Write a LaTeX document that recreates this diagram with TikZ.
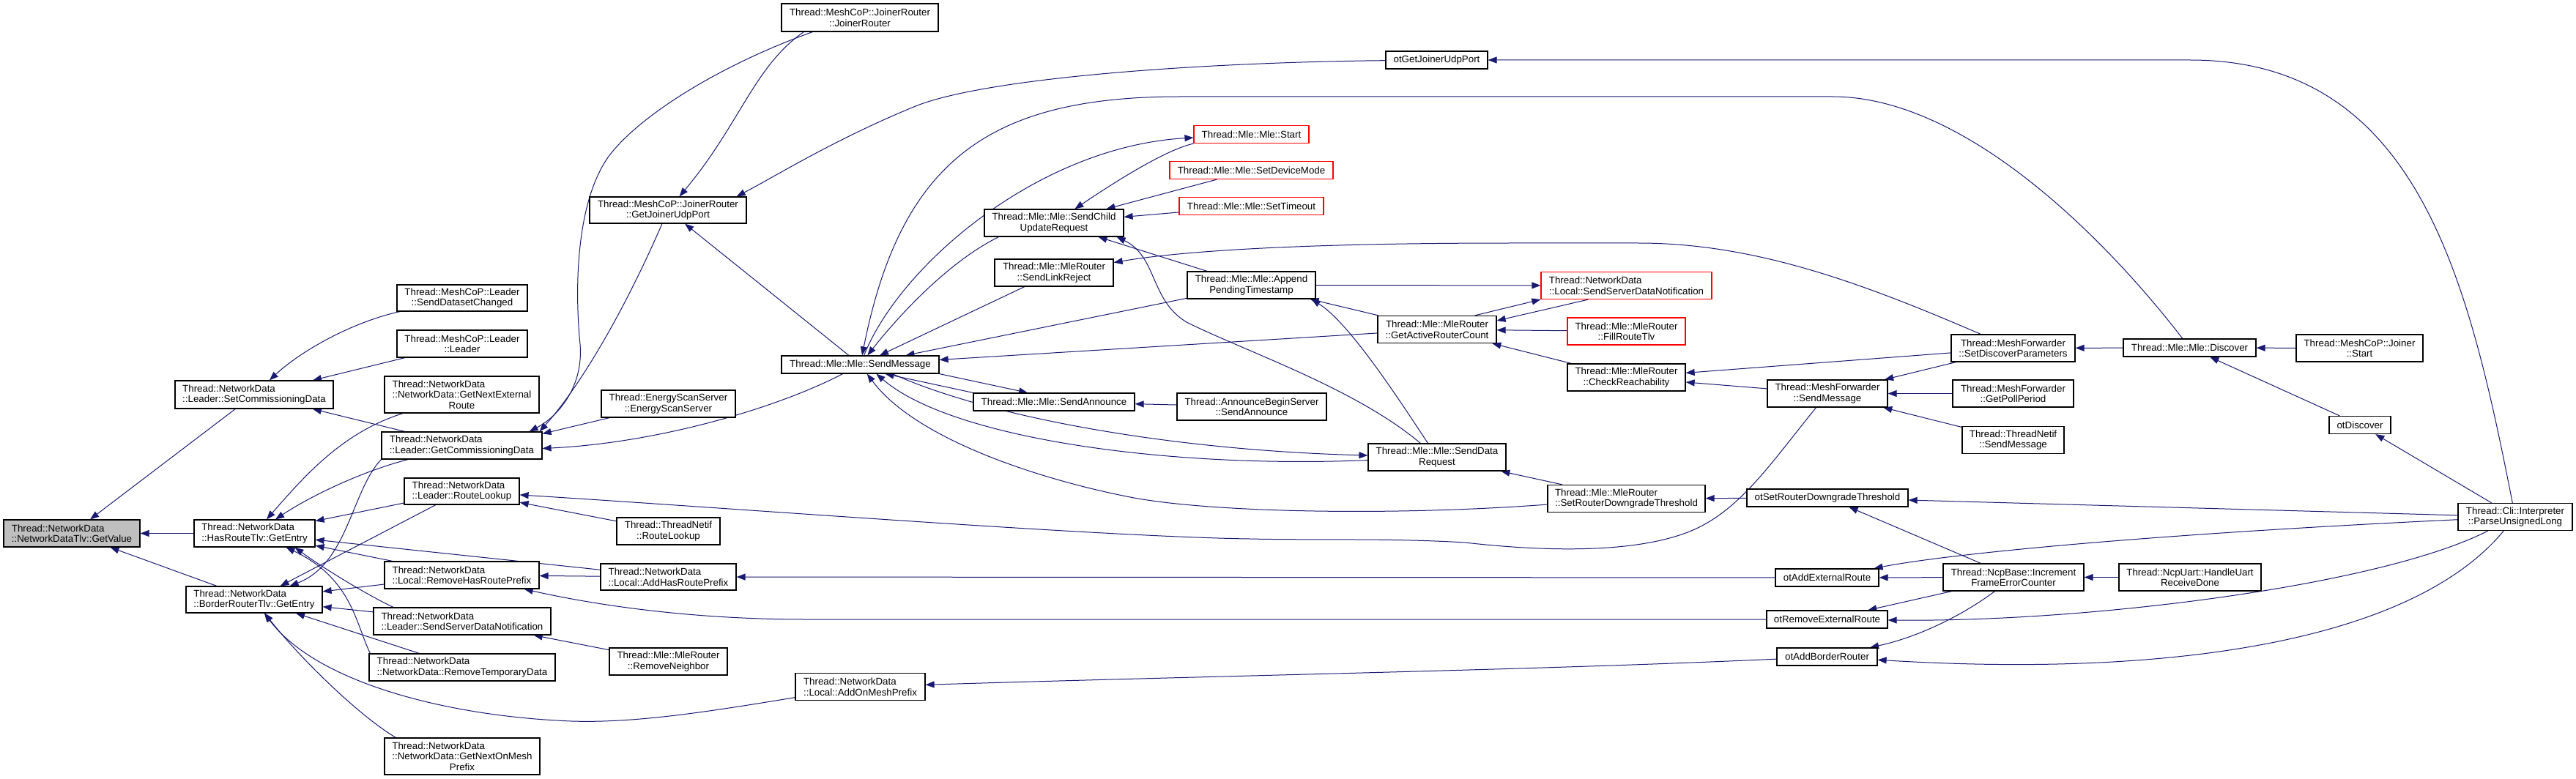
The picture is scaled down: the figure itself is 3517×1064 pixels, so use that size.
\documentclass[tikz,border=0pt]{standalone}
\usepackage{fontspec}
\setmainfont{Liberation Sans}
\usetikzlibrary{arrows.meta,calc}
\definecolor{edgec}{HTML}{191970}
\definecolor{grayfill}{HTML}{BFBFBF}
\newlength\lftlen
\newcommand\lft[2]{\settowidth{\lftlen}{#2}\makebox[\lftlen][l]{#1}\\#2}
\newcommand\nb[6][box]{\node[#1, minimum width=#4pt, minimum height=#5pt] (#2) at (#3) {#6};}
\pgfdeclarelayer{edgelayer}
\pgfsetlayers{edgelayer,main}
\tikzset{
 box/.style={draw=black, line width=1.2pt, fill=white, inner sep=0pt, align=center, font=\fontsize{13.33}{14.5}\selectfont},
 redbox/.style={box, draw=red},
 curbox/.style={box, fill=grayfill},
 e/.style={draw=edgec, line width=1pt, -{Triangle[length=12pt,width=9pt]}},
}
\begin{document}
\begin{tikzpicture}[x=1pt,y=-1pt]
\useasboundingbox (0,0) rectangle (3517,1064);
% nodes
\nb[curbox]{n1}{98,728.5}{186}{37}{\lft{Thread::NetworkData}{::NetworkDataTlv::GetValue}}
\nb{n2}{347,539}{216}{38}{\lft{Thread::NetworkData}{::Leader::SetCommissioningData}}
\nb{n3}{347.5,728.5}{165}{37}{\lft{Thread::NetworkData}{::HasRouteTlv::GetEntry}}
\nb{n4}{347,819}{186}{36}{\lft{Thread::NetworkData}{::BorderRouterTlv::GetEntry}}
\nb{n5}{631,407}{178}{36}{Thread::MeshCoP::Leader\\::SendDatasetChanged}
\nb{n6}{631,469.5}{178}{37}{Thread::MeshCoP::Leader\\::Leader}
\nb{n7}{630.5,539}{211}{50}{\lft{Thread::NetworkData}{::NetworkData::GetNextExternal}\\Route}
\nb{n8}{630.5,608.5}{219}{37}{\lft{Thread::NetworkData}{::Leader::GetCommissioningData}}
\nb{n9}{630.5,671}{157}{36}{\lft{Thread::NetworkData}{::Leader::RouteLookup}}
\nb{n10}{912.5,725.5}{141}{37}{Thread::ThreadNetif\\::RouteLookup}
\nb{n11}{630.5,785.5}{211}{37}{\lft{Thread::NetworkData}{::Local::RemoveHasRoutePrefix}}
\nb{n12}{912.5,788}{185}{36}{\lft{Thread::NetworkData}{::Local::AddHasRoutePrefix}}
\nb{n13}{631,848.5}{242}{37}{\lft{Thread::NetworkData}{::Leader::SendServerDataNotification}}
\nb{n14}{912.5,903.5}{161}{37}{Thread::Mle::MleRouter\\::RemoveNeighbor}
\nb{n15}{631,911.5}{254}{37}{\lft{Thread::NetworkData}{::NetworkData::RemoveTemporaryData}}
\nb{n16}{631,1033}{212}{50}{\lft{Thread::NetworkData}{::NetworkData::GetNextOnMesh}\\Prefix}
\nb{n17}{912,287}{214}{36}{Thread::MeshCoP::JoinerRouter\\::GetJoinerUdpPort}
\nb{n18}{912.5,551.5}{183}{37}{Thread::EnergyScanServer\\::EnergyScanServer}
\nb{n19}{1174,24}{214}{38}{Thread::MeshCoP::JoinerRouter\\::JoinerRouter}
\nb{n20}{1961.5,82}{139}{24}{otGetJoinerUdpPort}
\nb[redbox]{n21}{1708.5,183.5}{157}{24}{Thread::Mle::Mle::Start}
\nb[redbox]{n22}{1708.5,232.5}{223}{24}{Thread::Mle::Mle::SetDeviceMode}
\nb[redbox]{n23}{1708.5,281.5}{197}{24}{Thread::Mle::Mle::SetTimeout}
\nb{n24}{1439,304.5}{190}{37}{Thread::Mle::Mle::SendChild\\UpdateRequest}
\nb{n25}{1439,372.5}{162}{37}{Thread::Mle::MleRouter\\::SendLinkReject}
\nb{n26}{1708.5,389.5}{175}{37}{Thread::Mle::Mle::Append\\PendingTimestamp}
\nb{n27}{1962,450}{162}{37}{Thread::Mle::MleRouter\\::GetActiveRouterCount}
\nb{n28}{1174.5,498}{215}{24}{Thread::Mle::Mle::SendMessage}
\nb{n29}{1439,549}{220}{24}{Thread::Mle::Mle::SendAnnounce}
\nb{n30}{1709,555.5}{204}{37}{Thread::AnnounceBeginServer\\::SendAnnounce}
\nb{n31}{1962,624.5}{188}{37}{Thread::Mle::Mle::SendData\\Request}
\nb{n32}{1174.5,938}{177}{37}{\lft{Thread::NetworkData}{::Local::AddOnMeshPrefix}}
\nb[redbox]{n33}{2220.5,390}{233}{37}{\lft{Thread::NetworkData}{::Local::SendServerDataNotification}}
\nb[redbox]{n34}{2220.5,452.5}{161}{37}{Thread::Mle::MleRouter\\::FillRouteTlv}
\nb{n35}{2220.5,515.5}{161}{37}{Thread::Mle::MleRouter\\::CheckReachability}
\nb{n36}{2495,537.5}{164}{37}{Thread::MeshForwarder\\::SendMessage}
\nb{n37}{2748.5,475.5}{169}{37}{Thread::MeshForwarder\\::SetDiscoverParameters}
\nb{n38}{2748.5,537.5}{165}{37}{Thread::MeshForwarder\\::GetPollPeriod}
\nb{n39}{2748.5,601}{139}{37}{Thread::ThreadNetif\\::SendMessage}
\nb{n40}{2220.5,681}{215}{37}{\lft{Thread::Mle::MleRouter}{::SetRouterDowngradeThreshold}}
\nb{n41}{2495,680}{220}{24}{otSetRouterDowngradeThreshold}
\nb{n42}{2494.5,789}{141}{24}{otAddExternalRoute}
\nb{n43}{2494.5,846}{165}{24}{otRemoveExternalRoute}
\nb{n44}{2494.5,897}{137}{24}{otAddBorderRouter}
\nb{n45}{2749,788.5}{192}{37}{Thread::NcpBase::Increment\\FrameErrorCounter}
\nb{n46}{2989.5,475}{181}{24}{Thread::Mle::Mle::Discover}
\nb{n47}{3221.5,475.5}{173}{37}{Thread::MeshCoP::Joiner\\::Start}
\nb{n48}{3222,580.5}{84}{24}{otDiscover}
\nb{n49}{3434,706}{156}{37}{Thread::Cli::Interpreter\\::ParseUnsignedLong}
\nb{n50}{2990,788.5}{194}{37}{Thread::NcpUart::HandleUart\\ReceiveDone}
% edges
\begin{pgfonlayer}{edgelayer}
\fill[white] (0,0) rectangle (3517,1064);
\draw[e] (n2) -- (n1);
\draw[e] (n3) -- (n1);
\draw[e] (n4) -- (n1);
\draw[e] (n5) .. controls (480,440) and (410,480) .. (n2);
\draw[e] (n6) -- (n2);
\draw[e] (n8) -- (n2);
\draw[e] (n7) .. controls (470,590) and (420,645) .. (n3);
\draw[e] (n8) .. controls (490,645) and (420,680) .. (n3);
\draw[e] (n8.south west) .. controls (480,670) and (475,770) .. (n4);
\draw[e] (n9) -- (n3);
\draw[e] (n12) -- (n3);
\draw[e] (n11) -- (n3);
\draw[e] ($(n13.north)+(-94,0)$) .. controls (500,812) and (440,775) .. ($(n3.south)+(55,0)$);
\draw[e] ($(n15.north west)+(2,0)$) .. controls (485,850) and (480,790) .. ($(n3.south)+(43,0)$);
\draw[e] (n9) -- (n4);
\draw[e] (n11) -- (n4);
\draw[e] (n13) -- (n4);
\draw[e] (n15) -- (n4);
\draw[e] ($(n16.north west)+(16,0)$) .. controls (489,977) and (407,896) .. (n4);
\draw[e] (n32) .. controls (950,975) and (850,990) .. (760,984) .. controls (600,975) and (430,930) .. (n4);
\draw[e] ($(n19.south west)+(43,0)$) .. controls (980,90) and (870,160) .. (830,215) .. controls (785,280) and (785,400) .. (792,470) .. controls (797,530) and (760,570) .. ($(n8.north east)+(-18,0)$);
\draw[e] (n17) .. controls (850,430) and (790,530) .. ($(n8.north east)+(-4,0)$);
\draw[e] (n18) -- ($(n8.north east)+(0,3)$);
\draw[e] (n28) .. controls (1064,556) and (900,605) .. ($(n8.east)+(0,4)$);
\draw[e] ($(n19.south west)+(31,0)$) .. controls (1030,90) and (1010,170) .. (n17);
\draw[e] (n28) -- (n17);
\draw[e] (n20) .. controls (1650,85) and (1350,105) .. (1250,145) .. controls (1140,190) and (1060,240) .. ($(n17.north east)+(-14,0)$);
\draw[e] (n49) .. controls (3370,380) and (3300,82) .. (2990,82) -- (n20);
\draw[e] (n49) -- (n48);
\draw[e] (n49) -- (n41);
\draw[e] (n49) .. controls (2928,730) and (2657,757) .. (n42);
\draw[e] (n49) .. controls (3250,800) and (2850,850) .. (n43);
\draw[e] (n49) .. controls (3290,880) and (2950,925) .. (n44);
\draw[e] (n45) -- (n41);
\draw[e] (n45) -- (n42);
\draw[e] (n45) -- (n43);
\draw[e] (n45) .. controls (2680,840) and (2620,870) .. (n44);
\draw[e] (n50) -- (n45);
\draw[e] (n41) -- (n40);
\draw[e] (n40) -- (n31);
\draw[e] (n40) .. controls (1900,705) and (1650,700) .. (1543,679) .. controls (1420,655) and (1250,600) .. (n28);
\draw[e] (n36) .. controls (2420,630) and (2380,690) .. (2320,720) .. controls (2260,750) and (2150,758) .. (2000,741) .. controls (1900,735) and (1800,738) .. (1706,736) .. controls (1500,733) and (1000,694) .. (n9);
\draw[e] (n10) -- (n9);
\draw[e] (n42) -- (n12);
\draw[e] (n12) -- (n11);
\draw[e] (n43) -- (1100,846) .. controls (950,846) and (820,828) .. (n11);
\draw[e] (n44) .. controls (2100,915) and (1700,922) .. (n32);
\draw[e] (n14) -- (n13);
\draw[e] (n30) -- (n29);
\draw[e] (n28.south east) -- ($(n29.north)+(-36,0)$);
\draw[e] (n29.north west) -- ($(n28.south)+(34,0)$);
\draw[e] ($(n28.south)+(44,0)$) .. controls (1350,570) and (1600,615) .. (n31);
\draw[e] (n31) .. controls (1600,640) and (1300,600) .. ($(n28.south)+(22,0)$);
\draw[e] (n46) .. controls (2870,320) and (2680,132) .. (2502,132) -- (1611,132) .. controls (1350,132) and (1230,220) .. (n28);
\draw[e] (n28) .. controls (1230,360) and (1420,200) .. (n21);
\draw[e] ($(n24.south west)+(20,0)$) .. controls (1290,360) and (1220,440) .. (n28);
\draw[e] (n25) -- (n28);
\draw[e] (n26) -- (n28);
\draw[e] (n27) -- (n28);
\draw[e] (n21.south west) .. controls (1590,205) and (1520,250) .. (n24);
\draw[e] (n22) -- (n24);
\draw[e] (n23) -- (n24);
\draw[e] (n26) -- (n24);
\draw[e] (n31) .. controls (1850,530) and (1700,480) .. (1620,440) .. controls (1570,410) and (1580,350) .. ($(n24.south east)+(-10,0)$);
\draw[e] (n31) .. controls (1900,530) and (1840,440) .. ($(n26.south east)+(-6,0)$);
\draw[e] (n27) -- (n26);
\draw[e] (n26) -- (n33);
\draw[e] ($(n27.north east)+(-30,0)$) -- (n33.south west);
\draw[e] ($(n33.south west)+(65,0)$) -- ($(n27.east)+(0,-12)$);
\draw[e] (n34) -- (n27);
\draw[e] (n35) -- (n27);
\draw[e] (n37) -- (n35);
\draw[e] (n36) -- (n35);
\draw[e] (n37) -- (n36);
\draw[e] (n38) -- (n36);
\draw[e] (n39) -- (n36);
\draw[e] (n46) -- (n37);
\draw[e] (n47) -- (n46);
\draw[e] (n48) -- (n46);
\draw[e] (n37) .. controls (2550,390) and (2400,332) .. (2237,332) -- (2064,332) .. controls (1750,332) and (1600,345) .. (n25);
\end{pgfonlayer}
\end{tikzpicture}
\end{document}
